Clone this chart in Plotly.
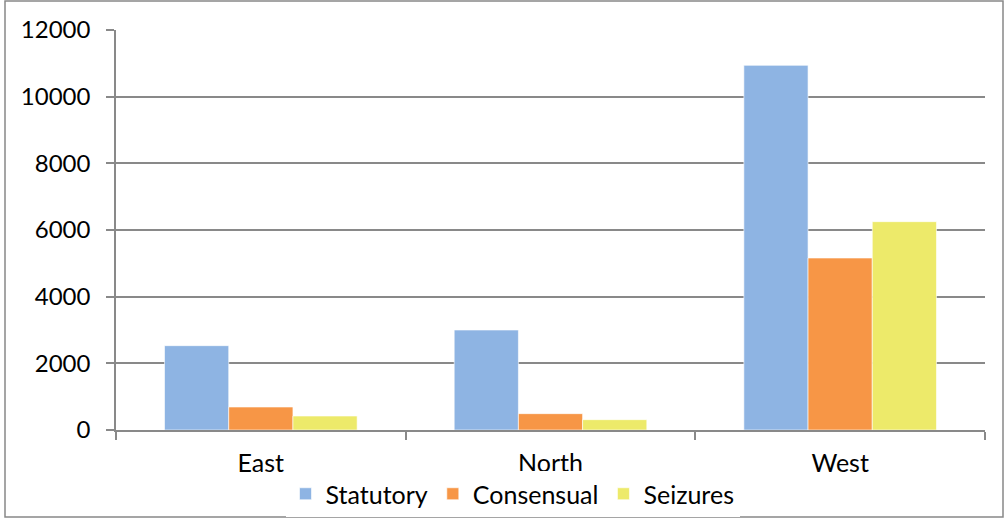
import plotly.graph_objects as go

categories = ["East", "North", "West"]
statutory = [2530, 3000, 10940]
consensual = [690, 490, 5160]
seizures = [420, 310, 6250]
y_ticks = [0, 2000, 4000, 6000, 8000, 10000, 12000]
y_tick_labels = ["0", "2000", "4000", "6000", "8000", "10000", "12000"]

series = [
    ("Statutory", statutory, "#8EB4E3"),
    ("Consensual", consensual, "#F79646"),
    ("Seizures", seizures, "#EDEA6A"),
]

fig = go.Figure()
for name, vals, col in series:
    fig.add_trace(go.Bar(x=categories, y=vals, name=name,
                         marker=dict(color=col, line=dict(color="rgba(255,255,255,0.6)", width=1))))

W, H = 1005, 519
L, R, T, B = 116, 20, 30, 89
pw = W - L - R
ph = H - T - B

fig.update_layout(
    width=W, height=H,
    margin=dict(l=L, r=R, t=T, b=B, autoexpand=False),
    paper_bgcolor="white", plot_bgcolor="white",
    font=dict(family="Lato", size=25, color="#000000"),
    barmode="group", bargap=0.335, bargroupgap=0,
    showlegend=True,
    legend=dict(orientation="h", x=0.5 - 38 / pw, xanchor="center", y=-0.16, yanchor="middle",
                font=dict(size=25), tracegroupgap=0, traceorder="normal"),
    xaxis=dict(showline=True, linecolor="#898989", linewidth=1.5, ticks="outside",
               ticklen=8, tickcolor="#898989", tickwidth=1.5, tickson="boundaries",
               showgrid=False, tickfont=dict(size=25), ticklabelstandoff=10),
    yaxis=dict(range=[0, 12000], tickvals=y_ticks, ticktext=y_tick_labels, showline=True,
               linecolor="#898989", linewidth=1.5, ticks="outside", ticklen=8,
               tickcolor="#898989", tickwidth=1.5,
               showgrid=True, gridcolor="#898989", gridwidth=1.5, zeroline=False,
               tickfont=dict(size=24), ticklabelstandoff=11),
    shapes=[dict(type="rect", xref="paper", yref="paper",
                 x0=(5 - L) / pw, x1=(1003 - L) / pw,
                 y0=-(517 - T - ph) / ph, y1=(ph + T - 1) / ph,
                 line=dict(color="#888888", width=1.5), fillcolor="rgba(0,0,0,0)", layer="below")],
)

fig.write_html("out.html")
